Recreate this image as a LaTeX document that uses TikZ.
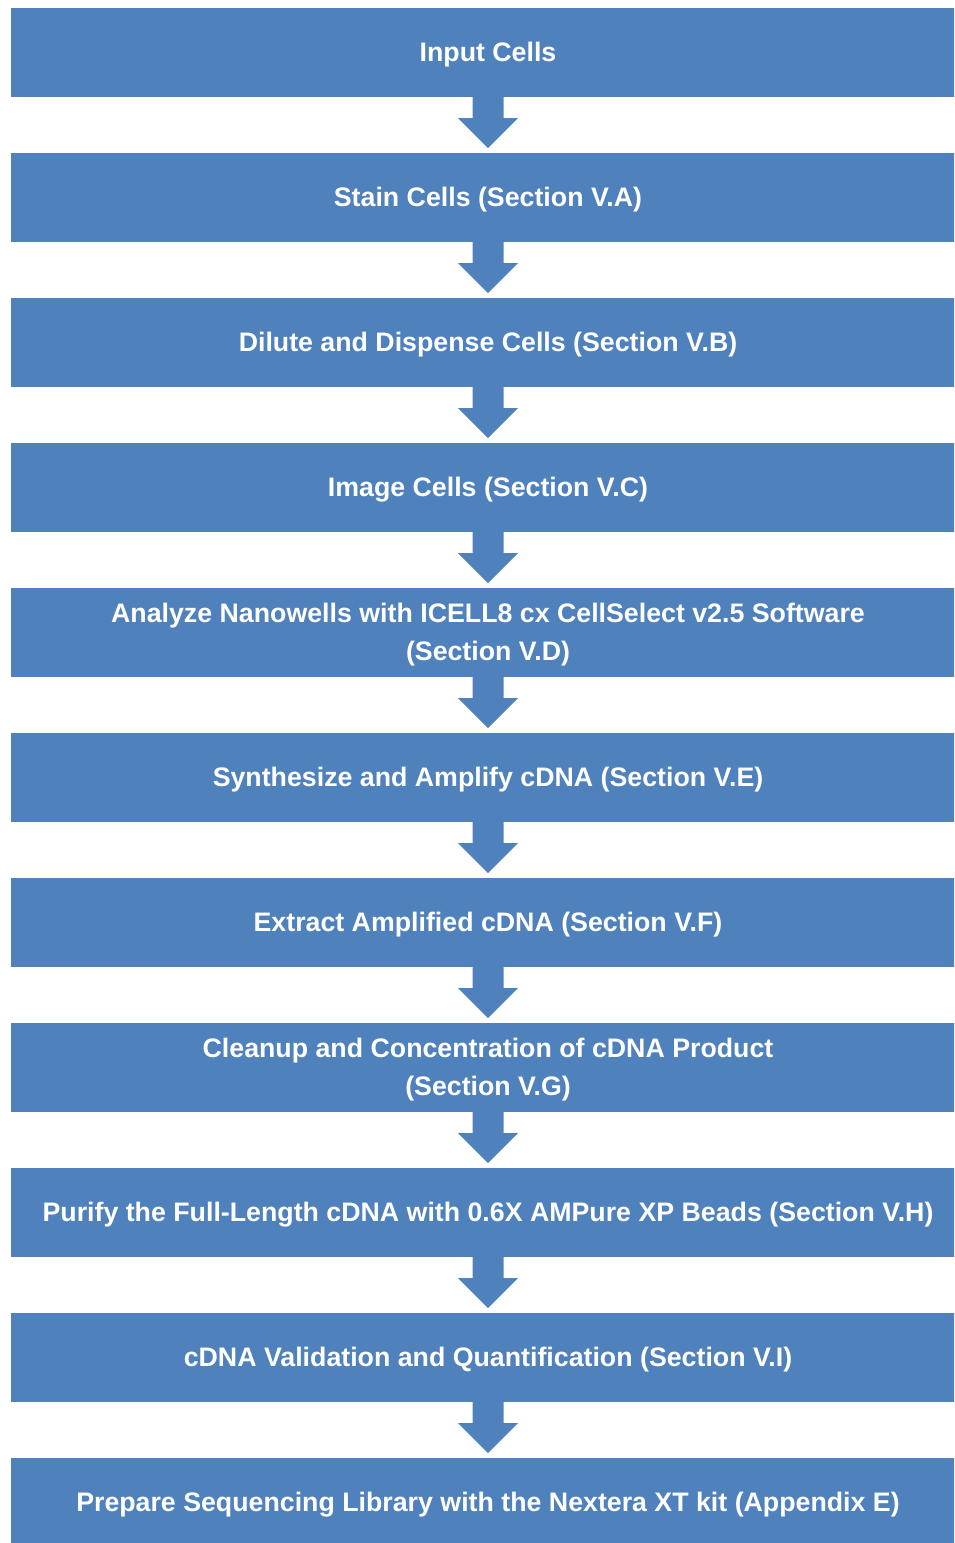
\documentclass[tikz,border=0pt]{standalone}
\usepackage{fontspec}
\setmainfont{Liberation Sans}
\usetikzlibrary{calc}
\definecolor{boxblue}{HTML}{4F81BD}
\begin{document}
\begin{tikzpicture}[x=1pt,y=-1pt,
  steptext/.style={align=center, text=white, inner sep=0pt,
    font=\fontsize{26.75}{38}\selectfont\bfseries},
  flowarrow/.style={fill=boxblue, draw=none}]
\useasboundingbox (0,0) rectangle (954,1543);
\clip (0,0) rectangle (954,1543);
\foreach \i/\t in {0/{Input Cells},
  1/{Stain Cells (Section V.A)},
  2/{Dilute and Dispense Cells (Section V.B)},
  3/{Image Cells (Section V.C)},
  4/{Analyze Nanowells with ICELL8 cx CellSelect v2.5 Software\\(Section V.D)},
  5/{Synthesize and Amplify cDNA (Section V.E)},
  6/{Extract Amplified cDNA (Section V.F)},
  7/{Cleanup and Concentration of cDNA Product\\(Section V.G)},
  8/{Purify the Full-Length cDNA with 0.6X AMPure XP Beads (Section V.H)},
  9/{cDNA Validation and Quantification (Section V.I)},
  10/{Prepare Sequencing Library with the Nextera XT kit (Appendix E)}}{
  \fill[boxblue] (11,8+145*\i) rectangle (965,97+145*\i);
  \node[steptext] (b\i) at (488,54.8+145*\i) {\t};
  \coordinate (s\i) at (488,97+145*\i);
}
\foreach \a in {0,...,9}{
  \fill[flowarrow] ($(s\a)+(-15.5,0)$) -- ++(0,21) -- ++(-14.5,0)
    -- ($(s\a)+(0,51)$) -- ($(s\a)+(30,21)$) -- ($(s\a)+(15.5,21)$)
    -- ($(s\a)+(15.5,0)$) -- cycle;
}
\end{tikzpicture}
\end{document}
